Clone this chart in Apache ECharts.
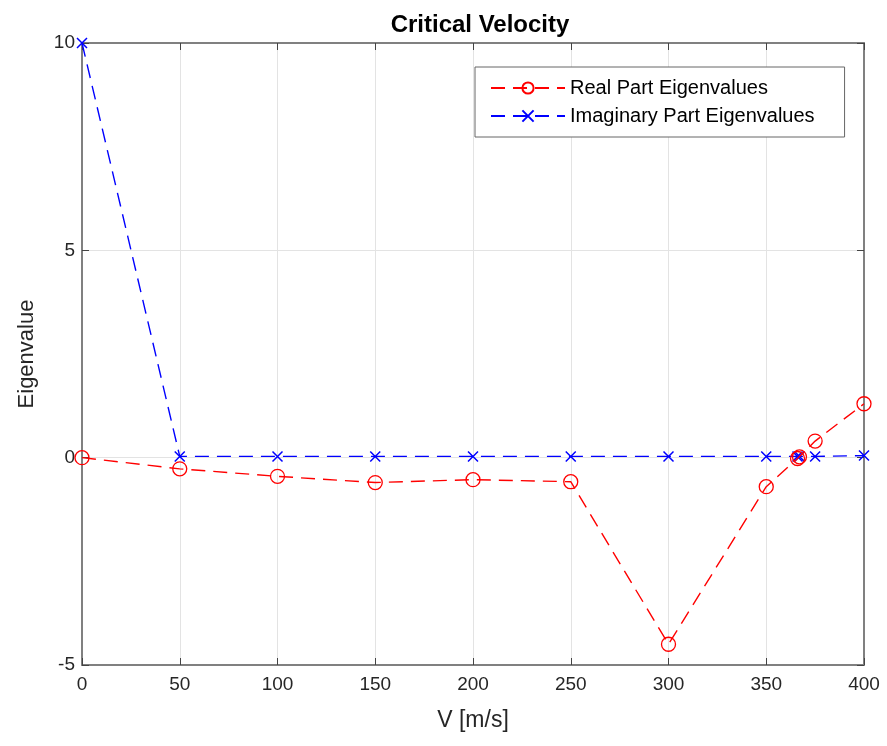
<!DOCTYPE html>
<html>
<head>
<meta charset="utf-8">
<script src="https://cdn.jsdelivr.net/npm/echarts@6/dist/echarts.min.js"></script>
<style>html,body{margin:0;padding:0;background:#fff;}#main{width:887px;height:746px;}</style>
</head>
<body>
<div id="main"></div>
<script>
const velocities = [0, 50, 100, 150, 200, 250, 300, 350, 366, 367, 375, 400];
const realPart   = [0, -0.27, -0.45, -0.6, -0.53, -0.58, -4.5, -0.7, -0.02, 0.02, 0.4, 1.3];
const imagPart   = [10, 0.03, 0.03, 0.03, 0.03, 0.03, 0.03, 0.03, 0.03, 0.03, 0.03, 0.05];
const xTicks = [0, 50, 100, 150, 200, 250, 300, 350, 400];
const yTicks = [-5, 0, 5, 10];

const FONT = 'Liberation Sans, Arial, sans-serif';
const pairs = (ys) => velocities.map((v, i) => [v, ys[i]]);
const crossPath = 'path://M0,0L10,10M10,0L0,10';

const baseX = {
  type: 'value', min: xTicks[0], max: xTicks[xTicks.length - 1], interval: 50,
  axisLine: { show: true, onZero: false, lineStyle: { color: '#808080', width: 2 } },
  axisTick: { show: true, inside: true, length: 7, lineStyle: { color: '#444', width: 1 } },
};
const baseY = {
  type: 'value', min: yTicks[0], max: yTicks[yTicks.length - 1], interval: 5,
  axisLine: { show: true, onZero: false, lineStyle: { color: '#808080', width: 2 } },
  axisTick: { show: true, inside: true, length: 7, lineStyle: { color: '#444', width: 1 } },
};

const chart = echarts.init(document.getElementById('main'));
chart.setOption({
  backgroundColor: '#fff',
  animation: false,
  title: {
    text: 'Critical Velocity', left: 475, top: 8, textAlign: 'center',
    textStyle: { fontFamily: FONT, fontSize: 24, fontWeight: 'bold', color: '#000' }
  },
  grid: { left: 82, right: 23, top: 43, bottom: 81 },
  legend: {
    orient: 'vertical', left: 475, top: 67,
    backgroundColor: '#fff', borderColor: '#666', borderWidth: 1,
    padding: [10, 30, 10, 15], itemGap: 6, itemWidth: 74, itemHeight: 14,
    textStyle: { fontFamily: FONT, fontSize: 20, lineHeight: 22, color: '#000' },
    data: ['Real Part Eigenvalues', 'Imaginary Part Eigenvalues']
  },
  xAxis: [
    Object.assign({}, baseX, {
      position: 'bottom',
      name: 'V [m/s]', nameLocation: 'middle', nameGap: 44,
      nameTextStyle: { fontFamily: FONT, fontSize: 23, color: '#262626' },
      axisLabel: { fontFamily: FONT, fontSize: 19, color: '#262626', margin: 10 },
      splitLine: { show: true, lineStyle: { color: '#e3e3e3', width: 1 } }
    }),
    Object.assign({}, baseX, {
      position: 'top', axisLabel: { show: false }, splitLine: { show: false }
    })
  ],
  yAxis: [
    Object.assign({}, baseY, {
      position: 'left',
      name: 'Eigenvalue', nameLocation: 'middle', nameGap: 44, nameRotate: 90,
      nameTextStyle: { fontFamily: FONT, fontSize: 22, color: '#262626' },
      axisLabel: { fontFamily: FONT, fontSize: 19, color: '#262626', margin: 7 },
      splitLine: { show: true, lineStyle: { color: '#e3e3e3', width: 1 } }
    }),
    Object.assign({}, baseY, {
      position: 'right', axisLabel: { show: false }, splitLine: { show: false }
    })
  ],
  series: [
    {
      name: 'Real Part Eigenvalues', type: 'line', data: pairs(realPart),
      xAxisIndex: 0, yAxisIndex: 0,
      symbol: 'circle', symbolSize: 14, showAllSymbol: true,
      lineStyle: { color: '#ff0000', width: 1.4, type: [14, 8] },
      itemStyle: { color: 'rgba(0,0,0,0)', borderColor: '#ff0000', borderWidth: 1.3 },
      z: 3
    },
    {
      name: 'Imaginary Part Eigenvalues', type: 'line', data: pairs(imagPart),
      xAxisIndex: 0, yAxisIndex: 0,
      symbol: crossPath, symbolSize: 10, showAllSymbol: true,
      lineStyle: { color: '#0000ff', width: 1.4, type: [14, 8] },
      itemStyle: { color: 'rgba(0,0,0,0)', borderColor: '#0000ff', borderWidth: 1.5 },
      z: 2
    }
  ]
});
</script>
</body>
</html>
